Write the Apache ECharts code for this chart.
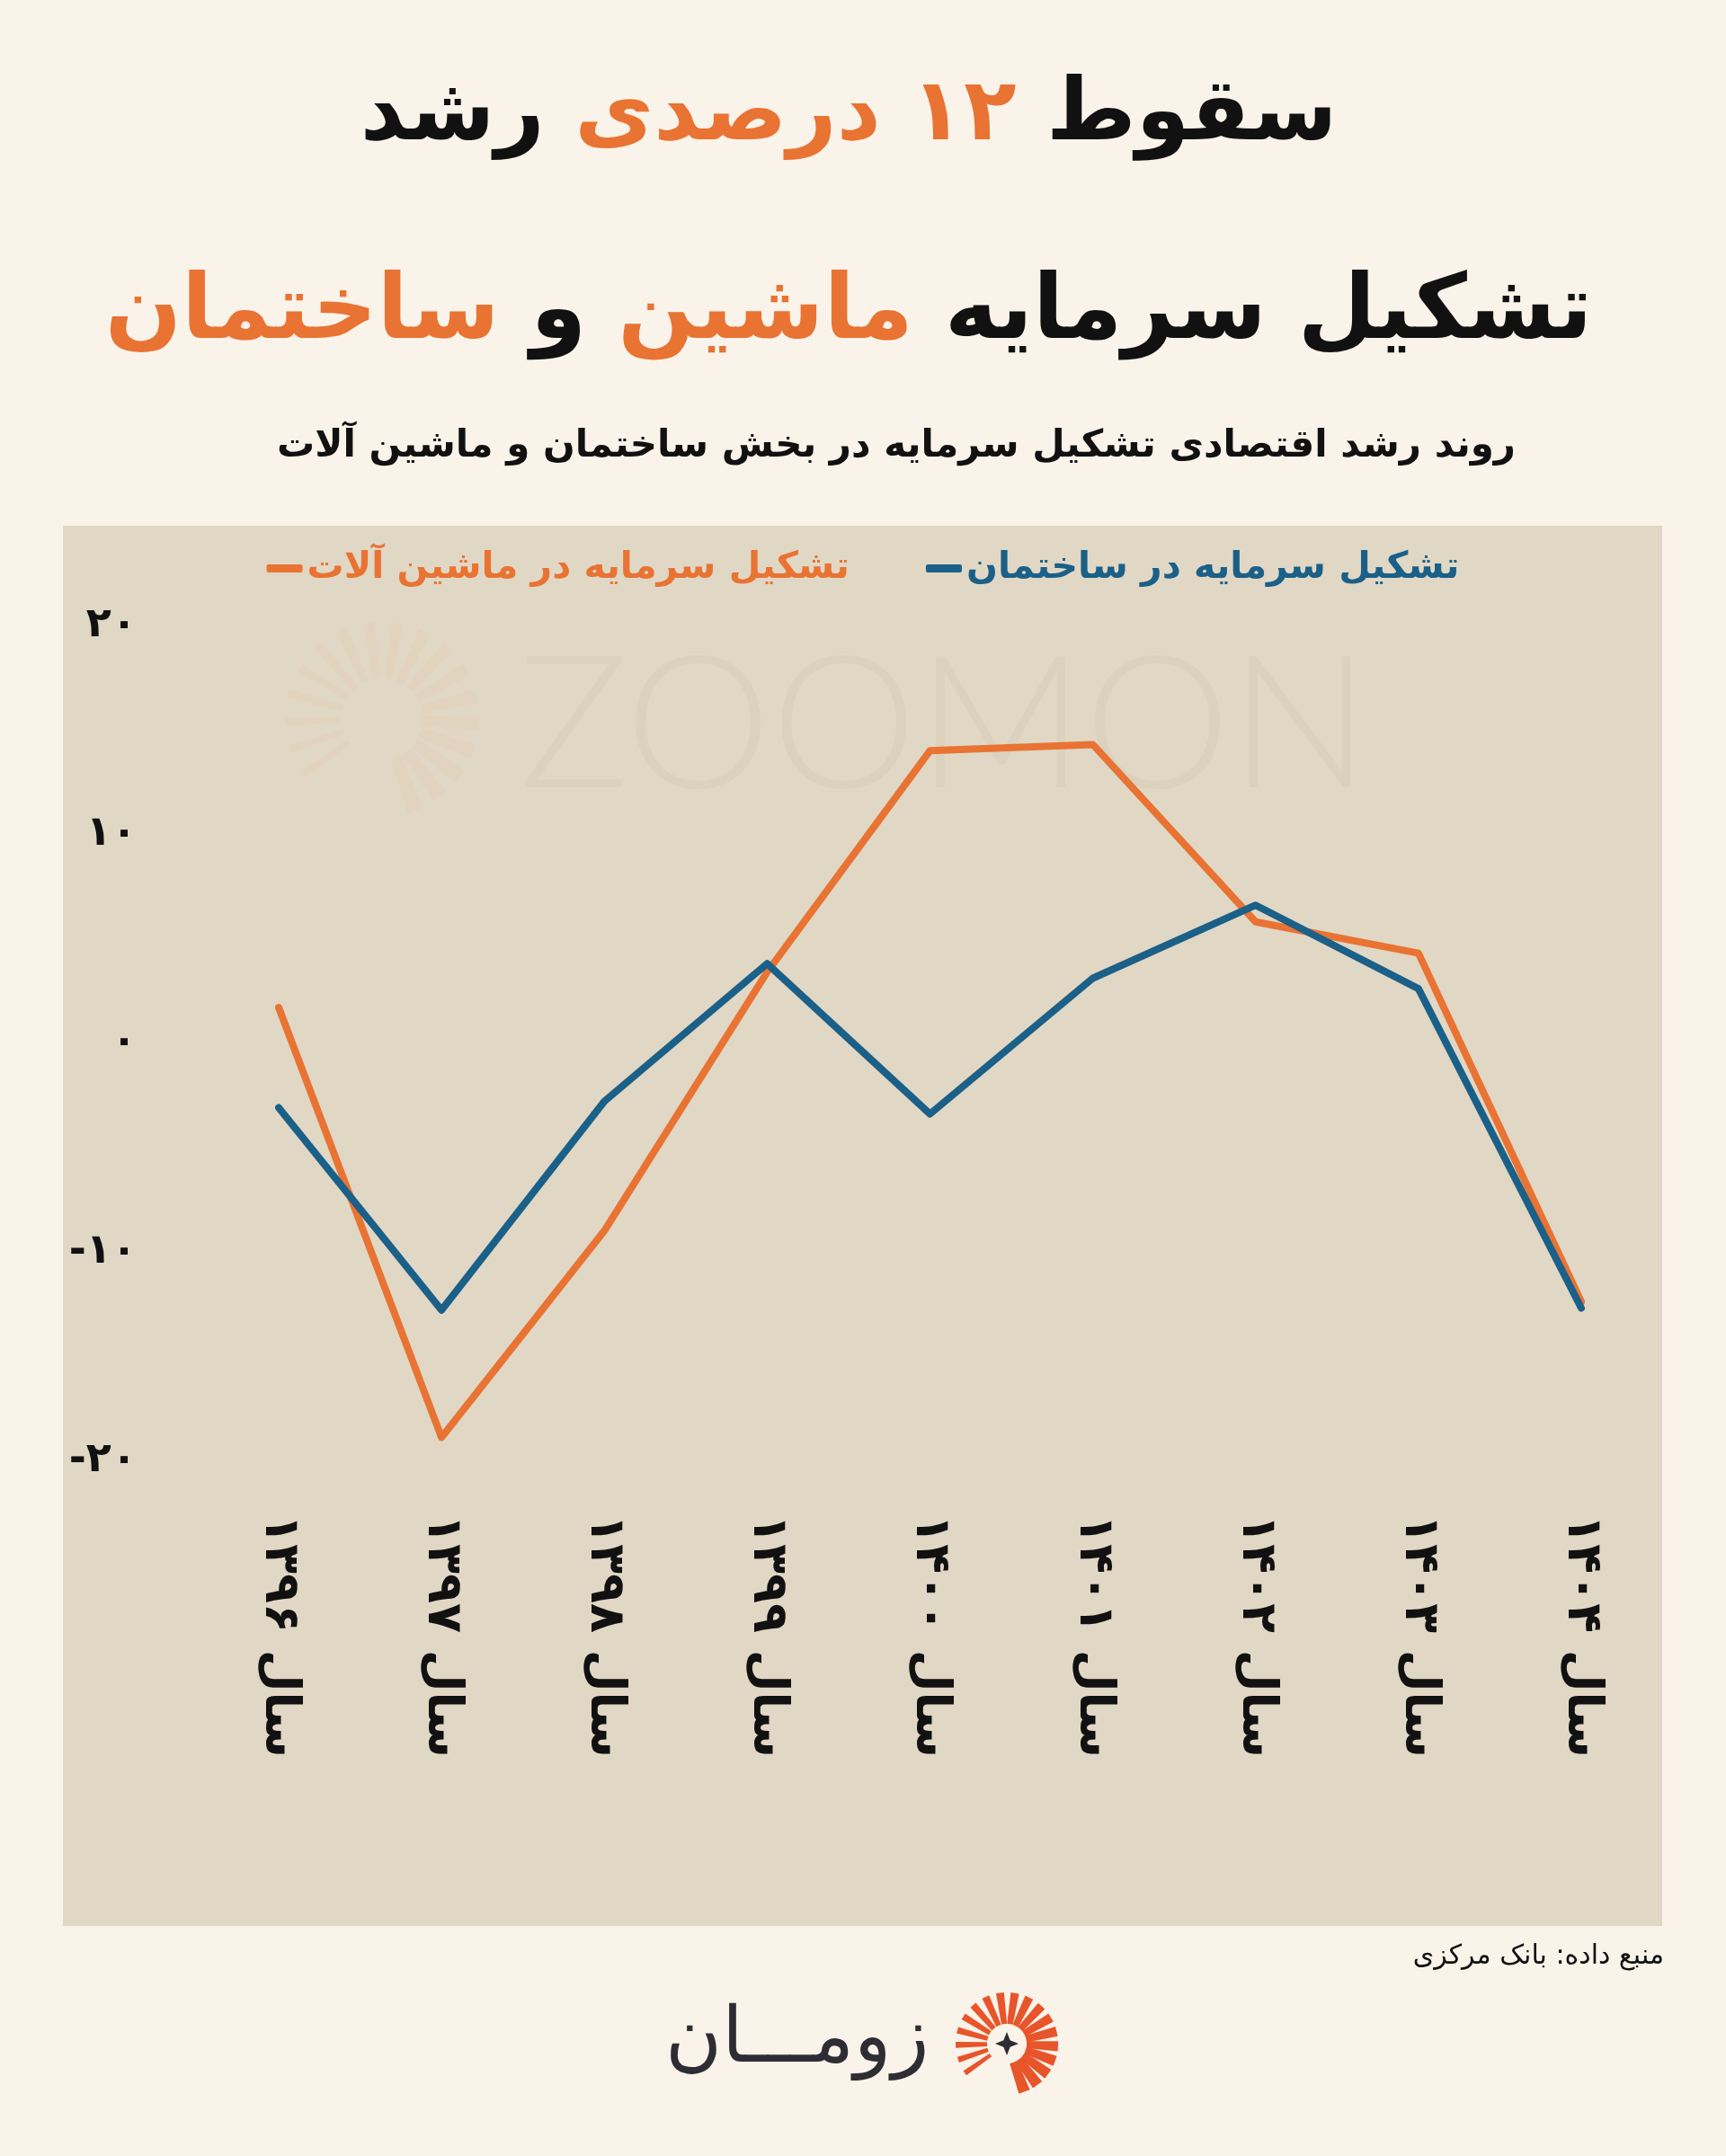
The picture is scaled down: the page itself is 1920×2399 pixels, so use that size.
<!DOCTYPE html>
<html>
<head>
<meta charset="utf-8">
<script src="https://cdn.jsdelivr.net/npm/echarts@6/dist/echarts.min.js"></script>
<style>
html,body{margin:0;padding:0;background:#faf3ea;}
#chart{width:1920px;height:2399px;}
</style>
</head>
<body>
<div id="chart"></div>
<script>
// ---- data ----
const categories = ['سال ۱۳۹۶','سال ۱۳۹۷','سال ۱۳۹۸','سال ۱۳۹۹','سال ۱۴۰۰','سال ۱۴۰۱','سال ۱۴۰۲','سال ۱۴۰۳','سال ۱۴۰۴'];
const machineryName = 'تشکیل سرمایه در ماشین آلات';
const buildingName = 'تشکیل سرمایه در ساختمان';
const machineryValues = [1.7, -18.9, -9.0, 3.4, 14.0, 14.3, 5.8, 4.3, -12.4];
const buildingValues = [-3.1, -12.8, -2.8, 3.8, -3.4, 3.1, 6.6, 2.6, -12.7];
const yTicks = [-20, -10, 0, 10, 20];
const yTickLabels = ['-۲۰', '-۱۰', '۰', '۱۰', '۲۰'];

const ORANGE = '#E97333';
const BLUE = '#1A6088';
const FONT = '"DejaVu Sans", "Noto Sans", sans-serif';

const chart = echarts.init(document.getElementById('chart'), null, {renderer: 'canvas'});

// decorative sunburst logo (watermark + footer)
function rays(cx, cy, r0, r1, startDeg, endDeg, n, w0, w1, color, z) {
  const out = [];
  for (let i = 0; i < n; i++) {
    const t = n === 1 ? 0 : i / (n - 1);
    const a = (startDeg + (endDeg - startDeg) * t) * Math.PI / 180;
    const hw0 = (w0 + (w1 - w0) * t) * 0.35, hw1 = (w0 + (w1 - w0) * t) * 0.5;
    const ca = Math.cos(a), sa = Math.sin(a), px = -sa, py = ca;
    out.push({
      type: 'polygon', z: z, silent: true,
      shape: {points: [
        [cx + ca * r0 + px * hw0, cy + sa * r0 + py * hw0],
        [cx + ca * r1 + px * hw1, cy + sa * r1 + py * hw1],
        [cx + ca * r1 - px * hw1, cy + sa * r1 - py * hw1],
        [cx + ca * r0 - px * hw0, cy + sa * r0 - py * hw0]
      ]},
      style: {fill: color}
    });
  }
  return out;
}
function star(cx, cy, r, color, z) {
  const s = r * 0.28;
  return {type: 'polygon', z: z, silent: true,
    shape: {points: [[cx, cy - r], [cx + s, cy - s], [cx + r, cy], [cx + s, cy + s], [cx, cy + r], [cx - s, cy + s], [cx - r, cy], [cx - s, cy - s]]},
    style: {fill: color}};
}

const graphics = [
  // plot panel background
  {type: 'rect', z: -10, silent: true, shape: {x: 70, y: 585, width: 1779, height: 1558}, style: {fill: '#E1D7C5'}},
  // watermark
  {type: 'text', z: -5, silent: true, style: {x: 1050, y: 810, text: 'ZOOMON', font: '300 205px "Lato", "Open Sans", sans-serif', fill: 'rgba(150,130,100,0.075)', align: 'center', verticalAlign: 'middle'}},
  ...rays(425, 800, 45, 108, -215, 70, 18, 8, 18, 'rgba(233,150,90,0.06)', -5),
  // titles
  {type: 'text', silent: true, style: {x: 944, y: 130, align: 'center', verticalAlign: 'middle',
    text: '{k|رشد} {o|درصدی} {o|۱۲} {k|سقوط}',
    font: 'bold 96px ' + FONT,
    rich: {k: {fill: '#111', font: 'bold 96px ' + FONT}, o: {fill: ORANGE, font: 'bold 96px ' + FONT}}}},
  {type: 'text', silent: true, style: {x: 944, y: 350, align: 'center', verticalAlign: 'middle',
    text: '{o|ساختمان} {k|و} {o|ماشین} {k|تشکیل سرمایه}',
    font: 'bold 100px ' + FONT,
    rich: {k: {fill: '#111', font: 'bold 100px ' + FONT}, o: {fill: ORANGE, font: 'bold 100px ' + FONT}}}},
  {type: 'text', silent: true, style: {x: 997, y: 497, align: 'center', verticalAlign: 'middle',
    text: 'روند رشد اقتصادی تشکیل سرمایه در بخش ساختمان و ماشین آلات',
    font: 'bold 42px ' + FONT, fill: '#111'}},
  // source
  {type: 'text', silent: true, style: {x: 1851, y: 2177, align: 'right', verticalAlign: 'middle',
    text: 'منبع داده: بانک مرکزی', font: '500 30px ' + FONT, fill: '#111'}},
  // footer brand
  {type: 'text', silent: true, style: {x: 1034, y: 2272, align: 'right', verticalAlign: 'middle',
    text: 'زومـــان', font: '300 86px ' + FONT, fill: '#2d2d33'}},
  ...rays(1120, 2274, 22, 57, -215, 70, 18, 6, 13, '#E8552A', 1),
  star(1120, 2274, 13, '#2d2d33', 2)
];

chart.setOption({
  backgroundColor: '#faf3ea',
  animation: false,
  graphic: graphics,
  legend: {
    top: 607, left: 'center', itemGap: 85, itemWidth: 40, itemHeight: 9,
    icon: 'roundRect',
    textStyle: {fontFamily: FONT, fontSize: 41, fontWeight: 'bold'},
    data: [
      {name: machineryName, textStyle: {color: ORANGE}},
      {name: buildingName, textStyle: {color: BLUE}}
    ]
  },
  grid: {left: 310, right: 161, top: 696, bottom: 774, containLabel: false},
  xAxis: {
    type: 'category', data: categories, boundaryGap: false,
    axisLine: {show: false}, axisTick: {show: false}, splitLine: {show: false},
    axisLabel: {interval: 0, rotate: -90, margin: 60, color: '#111', fontFamily: FONT, fontSize: 54, fontWeight: 'bold'}
  },
  yAxis: {
    type: 'value', min: -20, max: 20, interval: 10,
    axisLine: {show: false}, axisTick: {show: false}, splitLine: {show: false},
    axisLabel: {margin: 158, color: '#111', fontFamily: FONT, fontSize: 46, fontWeight: 'bold',
      formatter: function (v) { const i = yTicks.indexOf(v); return i >= 0 ? yTickLabels[i] : ''; }}
  },
  series: [
    {name: machineryName, type: 'line', data: machineryValues, symbol: 'none', color: ORANGE,
      lineStyle: {width: 8, color: ORANGE, cap: 'round', join: 'round'}},
    {name: buildingName, type: 'line', data: buildingValues, symbol: 'none', color: BLUE,
      lineStyle: {width: 8, color: BLUE, cap: 'round', join: 'round'}}
  ]
});
</script>
</body>
</html>
